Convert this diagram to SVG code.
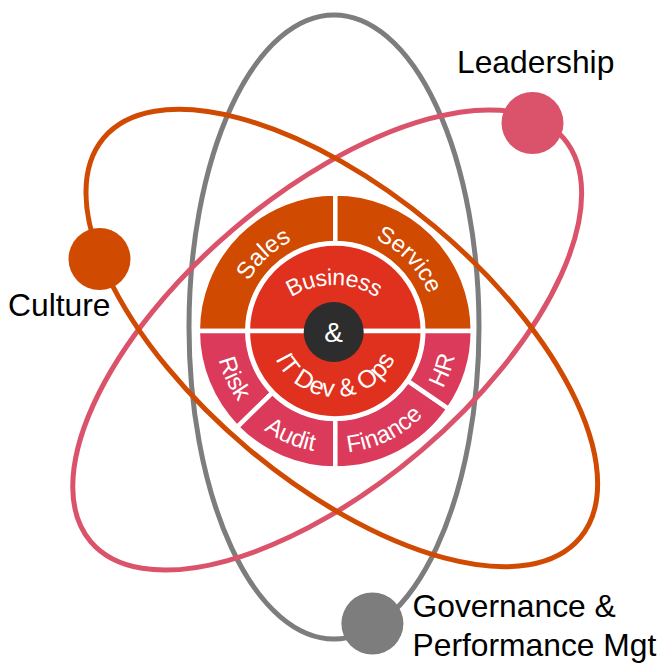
<svg xmlns="http://www.w3.org/2000/svg" width="670" height="670" viewBox="0 0 670 670">
<style>
.o{fill:none;stroke-width:5}
.s{stroke:#fff;stroke-width:4.5}
text{font-family:"Liberation Sans",Arial,sans-serif}
.l{font-size:31.8px;fill:#000}
.w{font-size:24px;fill:#fff;text-anchor:middle}
</style>
<defs>
<path id="t100" d="M235.3,331A100,100 0 0 1 435.3,331"/>
<path id="t80" d="M254,365A80,80 0 0 1 414,365"/>
<path id="b122" d="M213.3,331A122,122 0 0 0 457.3,331"/>
<path id="b66" d="M269.3,331A66,66 0 0 0 401.3,331"/>
</defs>
<rect width="670" height="670" fill="#fff"/>
<g id="connectors">
<ellipse class="o" cx="334" cy="327" rx="145" ry="312" stroke="#7d7d7d"/>
<ellipse class="o" cx="327.2" cy="340" rx="310.8" ry="145.2" transform="rotate(-40.5 327.2 340)" stroke="#db536a"/>
<ellipse class="o" cx="341.8" cy="338" rx="311" ry="145" transform="rotate(40 341.8 338)" stroke="#d04a02"/>
</g>
<g id="sales"><path class="s" fill="#d04a02" d="M197.8,331A137.5,137.5 0 0 1 335.3,193.5L335.3,243A88,88 0 0 0 247.3,331Z"/><text class="w" transform="rotate(-43 335.3 331)"><textPath href="#t100" startOffset="50%">Sales</textPath></text></g>
<g id="service"><path class="s" fill="#d04a02" d="M335.3,193.5A137.5,137.5 0 0 1 472.8,331L423.3,331A88,88 0 0 0 335.3,243Z"/><text class="w" style="font-size:23.5px" transform="rotate(46 335.3 331)"><textPath href="#t100" startOffset="50%">Service</textPath></text></g>
<g id="risk"><path class="s" fill="#db3a5a" d="M197.8,331A137.5,137.5 0 0 0 237.1,427.2L272.4,392.6A88,88 0 0 1 247.3,331Z"/><text class="w" transform="rotate(65 335.3 331) translate(0 -2)"><textPath href="#b122" startOffset="50%">Risk</textPath></text></g>
<g id="audit"><path class="s" fill="#db3a5a" d="M237.1,427.2A137.5,137.5 0 0 0 335.3,468.5L335.3,419A88,88 0 0 1 272.4,392.6Z"/><text class="w" transform="rotate(23 335.3 331)"><textPath href="#b122" startOffset="50%">Audit</textPath></text></g>
<g id="finance"><path class="s" fill="#db3a5a" d="M335.3,468.5A137.5,137.5 0 0 0 448.6,408.8L407.8,380.8A88,88 0 0 1 335.3,419Z"/><text class="w" transform="rotate(-26 335.3 331)"><textPath href="#b122" startOffset="50%">Finance</textPath></text></g>
<g id="hr"><path class="s" fill="#db3a5a" d="M448.6,408.8A137.5,137.5 0 0 0 472.8,331L423.3,331A88,88 0 0 1 407.8,380.8Z"/><text class="w" transform="rotate(-70 335.3 331)"><textPath href="#b122" startOffset="50%">HR</textPath></text></g>
<g id="business"><path class="s" fill="#e0301e" d="M247.8,331A87.5,87.5 0 0 1 422.8,331Z"/><text class="w" style="font-size:23px;letter-spacing:-0.4px"><textPath href="#t80" startOffset="50%">Business</textPath></text></g>
<g id="itdevops"><path class="s" fill="#e0301e" d="M247.8,331A87.5,87.5 0 0 0 422.8,331Z"/><text class="w" style="font-size:25px"><textPath href="#b66" startOffset="50%">IT Dev &amp; Ops</textPath></text></g>
<g id="and"><circle cx="333.7" cy="332" r="30" fill="#2d2d2d"/><text x="333.7" y="342" style="font-size:28px;fill:#fff;text-anchor:middle">&amp;</text></g>
<g id="leadership"><circle cx="532.5" cy="123" r="31" fill="#db536a"/><text class="l" x="457" y="73">Leadership</text></g>
<g id="culture"><circle cx="99.5" cy="259" r="31" fill="#d04a02"/><text class="l" x="8" y="316">Culture</text></g>
<g id="governance"><circle cx="372.4" cy="623.5" r="31" fill="#7d7d7d"/><text class="l" x="412.5" y="617">Governance &amp;</text><text class="l" x="412.5" y="656">Performance Mgt</text></g>
</svg>
